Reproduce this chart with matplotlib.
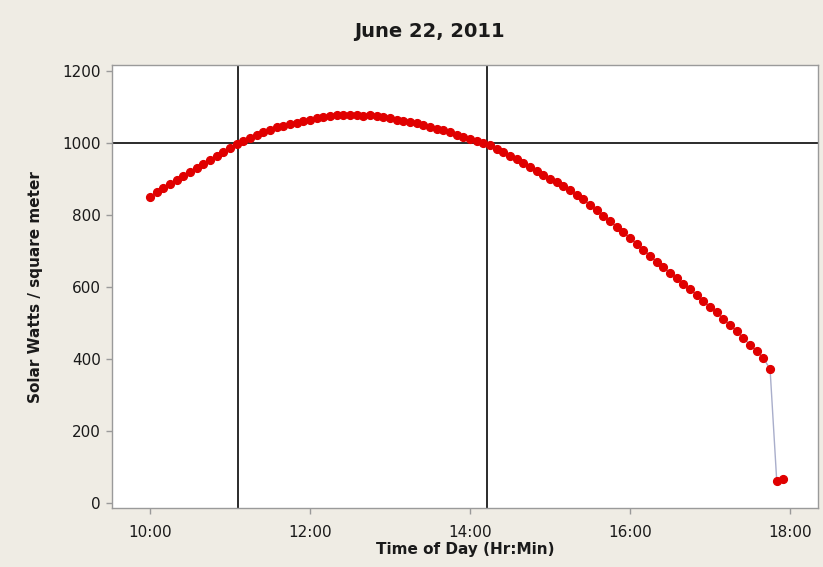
import matplotlib
matplotlib.use("Agg")
import matplotlib.pyplot as plt

times = [
    "10:00", "10:05", "10:10", "10:15", "10:20", "10:25", "10:30", "10:35", "10:40", "10:45", "10:50", "10:55",
    "11:00", "11:05", "11:10", "11:15", "11:20", "11:25", "11:30", "11:35", "11:40", "11:45", "11:50", "11:55",
    "12:00", "12:05", "12:10", "12:15", "12:20", "12:25", "12:30", "12:35", "12:40", "12:45", "12:50", "12:55",
    "13:00", "13:05", "13:10", "13:15", "13:20", "13:25", "13:30", "13:35", "13:40", "13:45", "13:50", "13:55",
    "14:00", "14:05", "14:10", "14:15", "14:20", "14:25", "14:30", "14:35", "14:40", "14:45", "14:50", "14:55",
    "15:00", "15:05", "15:10", "15:15", "15:20", "15:25", "15:30", "15:35", "15:40", "15:45", "15:50", "15:55",
    "16:00", "16:05", "16:10", "16:15", "16:20", "16:25", "16:30", "16:35", "16:40", "16:45", "16:50", "16:55",
    "17:00", "17:05", "17:10", "17:15", "17:20", "17:25", "17:30", "17:35", "17:40", "17:45", "17:50", "17:55",
]
watts = [
    851, 864, 876, 888, 899, 910, 921, 932, 943, 954, 965, 977,
    988, 999, 1007, 1016, 1024, 1031, 1038, 1044, 1049, 1053, 1057, 1062,
    1066, 1070, 1074, 1077, 1079, 1078, 1078, 1078, 1077, 1078, 1077, 1072,
    1069, 1066, 1063, 1059, 1055, 1050, 1046, 1041, 1036, 1030, 1024, 1018,
    1012, 1007, 1002, 995, 985, 975, 965, 955, 945, 935, 923, 913,
    902, 891, 880, 869, 857, 844, 829, 814, 799, 783, 768, 752,
    737, 720, 704, 688, 670, 655, 640, 626, 610, 594, 578, 562,
    545, 530, 512, 495, 477, 458, 440, 422, 402, 373, 62, 66,
]
ref_level = 1000
ref_times = ["11:06", "14:13"]
x_tick_labels = ["10:00", "12:00", "14:00", "16:00", "18:00"]
y_ticks = [0, 200, 400, 600, 800, 1000, 1200]


def to_hours(s):
    h, m = s.split(":")
    return int(h) + int(m) / 60.0


x = [to_hours(t) for t in times]

bg = "#EFECE4"
fig = plt.figure(figsize=(8.23, 5.67), dpi=100, facecolor=bg)
ax = fig.add_axes([0.136, 0.104, 0.858, 0.781])
ax.set_facecolor("white")

ax.plot(x, watts, color="#A9AECB", lw=1.0, zorder=2)
ax.plot(x, watts, linestyle="none", marker="o", markersize=5.6,
        markerfacecolor="#E00000", markeredgecolor="#E00000", zorder=3)

ax.axhline(ref_level, color="#2b2b2b", lw=1.4, zorder=1)
for rt in ref_times:
    ax.axvline(to_hours(rt), color="#2b2b2b", lw=1.4, zorder=1)

ax.set_xlim(9.525, 18.35)
ax.set_ylim(-14, 1217)
ax.set_xticks([to_hours(t) for t in x_tick_labels])
ax.set_xticklabels(x_tick_labels)
ax.set_yticks(y_ticks)

for sp in ax.spines.values():
    sp.set_color("#9a9a9a")
    sp.set_linewidth(1.0)
ax.tick_params(axis="both", colors="#9a9a9a", length=4, width=1, labelsize=11,
               labelcolor="#1a1a1a")
ax.tick_params(axis="x", pad=8)
ax.tick_params(axis="y", pad=4)

ax.set_title("June 22, 2011", fontsize=14, fontweight="bold", pad=20, color="#1a1a1a", x=0.449)
ax.set_xlabel("Time of Day (Hr:Min)", fontsize=11, fontweight="bold", labelpad=2, color="#1a1a1a")
ax.set_ylabel("Solar Watts / square meter", fontsize=11, fontweight="bold", labelpad=14, color="#1a1a1a")

fig.savefig("out.png", dpi=100, facecolor=bg)
